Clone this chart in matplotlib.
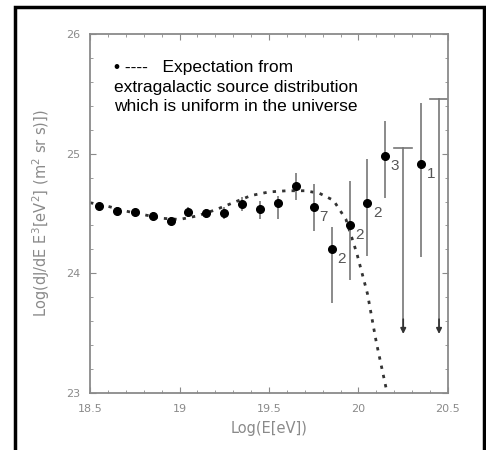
import matplotlib
matplotlib.use("Agg")
import matplotlib.pyplot as plt
from matplotlib.patches import Rectangle
from matplotlib.ticker import MultipleLocator

# measured points: log E, log flux, error down, error up, label
log_e = [18.55, 18.65, 18.75, 18.85, 18.95, 19.05, 19.15, 19.25, 19.35,
         19.45, 19.55, 19.65, 19.75, 19.85, 19.95, 20.05, 20.15, 20.35]
log_j = [24.56, 24.52, 24.51, 24.48, 24.44, 24.51, 24.50, 24.50, 24.58,
         24.535, 24.585, 24.73, 24.55, 24.20, 24.40, 24.585, 24.98, 24.91]
err_lo = [0.03, 0.03, 0.03, 0.03, 0.03, 0.04, 0.04, 0.05, 0.06,
          0.08, 0.13, 0.12, 0.20, 0.45, 0.46, 0.44, 0.35, 0.77]
err_hi = [0.03, 0.03, 0.03, 0.03, 0.03, 0.04, 0.04, 0.05, 0.06,
          0.07, 0.06, 0.11, 0.20, 0.19, 0.37, 0.37, 0.29, 0.51]
counts = ["", "", "", "", "", "", "", "", "", "", "", "", "7", "2", "2", "2", "3", "1"]

# upper limits
lim_e = [20.25, 20.45]
lim_top = [25.05, 25.46]
lim_bottom = [23.52, 23.52]

# expectation curve (uniform extragalactic sources)
curve_e = [18.50, 18.60, 18.70, 18.80, 18.90, 19.00, 19.10, 19.20, 19.30,
           19.40, 19.50, 19.60, 19.70, 19.78, 19.86, 19.93, 19.99, 20.05,
           20.10, 20.16]
curve_j = [24.59, 24.56, 24.52, 24.49, 24.46, 24.45, 24.48, 24.53, 24.59,
           24.65, 24.68, 24.69, 24.69, 24.67, 24.61, 24.45, 24.17, 23.83,
           23.42, 23.00]

fig = plt.figure(figsize=(4.86, 4.5), dpi=100)
ax = fig.add_axes([0.1852, 0.1267, 0.7366, 0.7978])

grey = "#8a8a8a"

ax.plot(curve_e, curve_j, color="#333333", lw=2.0, linestyle=(0, (1.2, 2.2)))

ax.errorbar(log_e, log_j, yerr=[err_lo, err_hi], fmt="o", color="black",
            ms=5.5, ecolor="#777777", elinewidth=1.2, capsize=0)

for e, top, bot in zip(lim_e, lim_top, lim_bottom):
    ax.plot([e, e], [top, bot], color="#777777", lw=1.2)
    ax.plot([e - 0.05, e + 0.05], [top, top], color="#777777", lw=1.2)
    ax.annotate("", xy=(e, bot - 0.05), xytext=(e, bot + 0.12),
                arrowprops=dict(arrowstyle="-|>", color="#333333", lw=1.2,
                                mutation_scale=8))

for e, j, c in zip(log_e, log_j, counts):
    if c:
        ax.text(e + 0.03, j - 0.08, c, fontsize=11, color="#555555",
                family="Liberation Sans", va="center", ha="left")

ax.text(0.067, 0.908, "\u2022 ----   Expectation from", transform=ax.transAxes,
        fontsize=12.5, family="Liberation Sans", va="center")
ax.text(0.067, 0.852, "extragalactic source distribution", transform=ax.transAxes,
        fontsize=12.5, family="Liberation Sans", va="center")
ax.text(0.067, 0.797, "which is uniform in the universe", transform=ax.transAxes,
        fontsize=12.5, family="Liberation Sans", va="center")

ax.set_xlim(18.5, 20.5)
ax.set_ylim(23, 26)
ax.set_xticks([18.5, 19, 19.5, 20, 20.5])
ax.set_xticklabels(["18.5", "19", "19.5", "20", "20.5"])
ax.set_yticks([23, 24, 25, 26])
ax.xaxis.set_minor_locator(MultipleLocator(0.1))
ax.yaxis.set_minor_locator(MultipleLocator(0.2))
ax.tick_params(which="both", direction="in", top=True, right=True,
               color=grey, labelcolor=grey, labelsize=8)
ax.tick_params(axis="x", which="major", length=4, pad=8)
ax.tick_params(axis="y", which="major", length=4, pad=7)
ax.tick_params(which="minor", length=2)
for s in ax.spines.values():
    s.set_color(grey)
    s.set_linewidth(1.3)

ax.set_xlabel("Log(E[eV])", color=grey, fontsize=10.5, labelpad=5)
ax.set_ylabel(r"Log(dJ/dE E$^3$[eV$^2$] (m$^2$ sr s)])", color=grey,
              fontsize=10.5, labelpad=10)

fig.patches.append(Rectangle((15 / 486, -0.05), 469 / 486, 1.05 - 7 / 450,
                             transform=fig.transFigure, fill=False,
                             edgecolor="black", lw=2.5))

fig.savefig("out.png", dpi=100)
